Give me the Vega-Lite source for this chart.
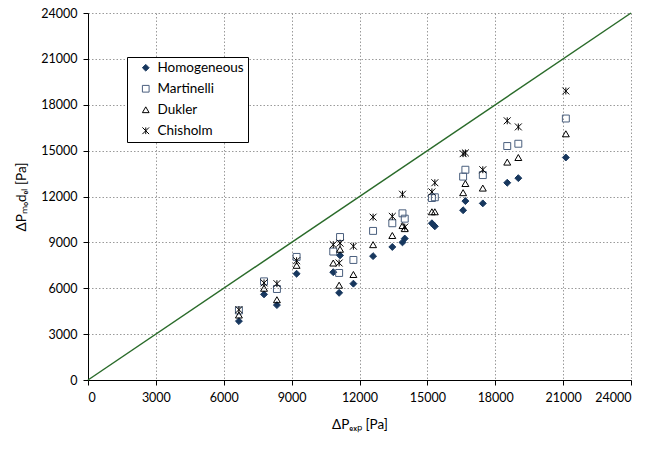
{
  "$schema": "https://vega.github.io/schema/vega-lite/v6.json",
  "width": 543,
  "height": 367,
  "autosize": "none",
  "padding": {"left": 88, "top": 13, "right": 26, "bottom": 70},
  "config": {
    "view": {"stroke": null},
    "font": "Lato",
    "axis": {
      "labelFontSize": 12.5,
      "labelColor": "#000",
      "domainColor": "#000",
      "tickColor": "#000",
      "tickSize": 5,
      "gridColor": "#9a9a9a",
      "gridDash": [1.5, 2],
      "gridWidth": 1,
      "titleFontSize": 13.5,
      "titleFontWeight": "normal",
      "titleColor": "#000"
    },
    "legend": {
      "labelFontSize": 13.5,
      "labelColor": "#000",
      "symbolSize": 45,
      "symbolStrokeWidth": 1
    }
  },
  "datasets": {
    "diag": [{"x": 0, "y": 0}, {"x": 24000, "y": 24000}],
    "pts": [
      {"exp": 6670, "model": "Homogeneous", "value": 3850},
      {"exp": 6670, "model": "Martinelli", "value": 4550},
      {"exp": 6670, "model": "Dukler", "value": 4250},
      {"exp": 6670, "model": "Chisholm", "value": 4600},
      {"exp": 7780, "model": "Homogeneous", "value": 5600},
      {"exp": 7780, "model": "Martinelli", "value": 6450},
      {"exp": 7780, "model": "Dukler", "value": 6000},
      {"exp": 7780, "model": "Chisholm", "value": 6350},
      {"exp": 8350, "model": "Homogeneous", "value": 4900},
      {"exp": 8350, "model": "Martinelli", "value": 5950},
      {"exp": 8350, "model": "Dukler", "value": 5250},
      {"exp": 8350, "model": "Chisholm", "value": 6300},
      {"exp": 9220, "model": "Homogeneous", "value": 6950},
      {"exp": 9220, "model": "Martinelli", "value": 8050},
      {"exp": 9220, "model": "Dukler", "value": 7500},
      {"exp": 9220, "model": "Chisholm", "value": 7800},
      {"exp": 10840, "model": "Homogeneous", "value": 7050},
      {"exp": 10840, "model": "Martinelli", "value": 8400},
      {"exp": 10840, "model": "Dukler", "value": 7650},
      {"exp": 10840, "model": "Chisholm", "value": 8850},
      {"exp": 11140, "model": "Homogeneous", "value": 8150},
      {"exp": 11140, "model": "Martinelli", "value": 9350},
      {"exp": 11140, "model": "Dukler", "value": 8550},
      {"exp": 11140, "model": "Chisholm", "value": 8950},
      {"exp": 11100, "model": "Homogeneous", "value": 5700},
      {"exp": 11100, "model": "Martinelli", "value": 7000},
      {"exp": 11100, "model": "Dukler", "value": 6200},
      {"exp": 11100, "model": "Chisholm", "value": 7650},
      {"exp": 11730, "model": "Homogeneous", "value": 6300},
      {"exp": 11730, "model": "Martinelli", "value": 7850},
      {"exp": 11730, "model": "Dukler", "value": 6900},
      {"exp": 11730, "model": "Chisholm", "value": 8750},
      {"exp": 12600, "model": "Homogeneous", "value": 8100},
      {"exp": 12600, "model": "Martinelli", "value": 9750},
      {"exp": 12600, "model": "Dukler", "value": 8850},
      {"exp": 12600, "model": "Chisholm", "value": 10650},
      {"exp": 13450, "model": "Homogeneous", "value": 8700},
      {"exp": 13450, "model": "Martinelli", "value": 10250},
      {"exp": 13450, "model": "Dukler", "value": 9450},
      {"exp": 13450, "model": "Chisholm", "value": 10700},
      {"exp": 13900, "model": "Homogeneous", "value": 9000},
      {"exp": 13900, "model": "Martinelli", "value": 10900},
      {"exp": 13900, "model": "Dukler", "value": 10100},
      {"exp": 13900, "model": "Chisholm", "value": 12150},
      {"exp": 14000, "model": "Homogeneous", "value": 9250},
      {"exp": 14000, "model": "Martinelli", "value": 10550},
      {"exp": 14000, "model": "Dukler", "value": 9900},
      {"exp": 14000, "model": "Chisholm", "value": 10000},
      {"exp": 15200, "model": "Homogeneous", "value": 10250},
      {"exp": 15200, "model": "Martinelli", "value": 11900},
      {"exp": 15200, "model": "Dukler", "value": 11000},
      {"exp": 15200, "model": "Chisholm", "value": 12300},
      {"exp": 15330, "model": "Homogeneous", "value": 10050},
      {"exp": 15330, "model": "Martinelli", "value": 11950},
      {"exp": 15330, "model": "Dukler", "value": 11000},
      {"exp": 15330, "model": "Chisholm", "value": 12900},
      {"exp": 16580, "model": "Homogeneous", "value": 11100},
      {"exp": 16580, "model": "Martinelli", "value": 13300},
      {"exp": 16580, "model": "Dukler", "value": 12250},
      {"exp": 16580, "model": "Chisholm", "value": 14800},
      {"exp": 16680, "model": "Homogeneous", "value": 11700},
      {"exp": 16680, "model": "Martinelli", "value": 13750},
      {"exp": 16680, "model": "Dukler", "value": 12850},
      {"exp": 16680, "model": "Chisholm", "value": 14850},
      {"exp": 17450, "model": "Homogeneous", "value": 11550},
      {"exp": 17450, "model": "Martinelli", "value": 13400},
      {"exp": 17450, "model": "Dukler", "value": 12550},
      {"exp": 17450, "model": "Chisholm", "value": 13750},
      {"exp": 18530, "model": "Homogeneous", "value": 12900},
      {"exp": 18530, "model": "Martinelli", "value": 15300},
      {"exp": 18530, "model": "Dukler", "value": 14250},
      {"exp": 18530, "model": "Chisholm", "value": 16950},
      {"exp": 19020, "model": "Homogeneous", "value": 13200},
      {"exp": 19020, "model": "Martinelli", "value": 15450},
      {"exp": 19020, "model": "Dukler", "value": 14550},
      {"exp": 19020, "model": "Chisholm", "value": 16550},
      {"exp": 21120, "model": "Homogeneous", "value": 14550},
      {"exp": 21120, "model": "Martinelli", "value": 17100},
      {"exp": 21120, "model": "Dukler", "value": 16100},
      {"exp": 21120, "model": "Chisholm", "value": 18900}
    ]
  },
  "layer": [
    {
      "data": {"name": "diag"},
      "mark": {"type": "line", "color": "#2a6b2a", "strokeWidth": 1.5},
      "encoding": {
        "x": {
          "field": "x", "type": "quantitative",
          "scale": {"domain": [0, 24000], "nice": false},
          "axis": {"values": [0, 3000, 6000, 9000, 12000, 15000, 18000, 21000, 24000], "format": "d", "title": "ΔPₑₓₚ  [Pa]", "titlePadding": 14, "labelPadding": 6}
        },
        "y": {
          "field": "y", "type": "quantitative",
          "scale": {"domain": [0, 24000], "nice": false},
          "axis": {"values": [0, 3000, 6000, 9000, 12000, 15000, 18000, 21000, 24000], "format": "d", "title": "ΔPₘₒdₑₗ  [Pa]", "titlePadding": 12, "labelPadding": 6}
        }
      }
    },
    {
      "data": {"name": "pts"},
      "mark": {"type": "point", "size": 48, "strokeWidth": 1, "opacity": 1},
      "encoding": {
        "x": {"field": "exp", "type": "quantitative"},
        "y": {"field": "value", "type": "quantitative"},
        "shape": {
          "field": "model", "type": "nominal",
          "scale": {"domain": ["Homogeneous", "Martinelli", "Dukler", "Chisholm"], "range": ["diamond", "square", "triangle-up", "M-1,-1L1,1M-1,1L1,-1M0,-1L0,1"]},
          "legend": {"title": null, "orient": "none", "legendX": 39, "legendY": 44, "strokeColor": "#000", "fillColor": "#fff", "padding": 4, "rowPadding": 6, "symbolOffset": 8, "labelOffset": 5, "cornerRadius": 0}
        },
        "fill": {
          "field": "model", "type": "nominal",
          "scale": {"domain": ["Homogeneous", "Martinelli", "Dukler", "Chisholm"], "range": ["#17375e", "transparent", "transparent", "transparent"]},
          "legend": {"title": null, "orient": "none", "legendX": 39, "legendY": 44, "strokeColor": "#000", "fillColor": "#fff", "padding": 4, "rowPadding": 6, "symbolOffset": 8, "labelOffset": 5, "cornerRadius": 0}
        },
        "stroke": {
          "field": "model", "type": "nominal",
          "scale": {"domain": ["Homogeneous", "Martinelli", "Dukler", "Chisholm"], "range": ["#17375e", "#4a5f7e", "#000000", "#000000"]},
          "legend": {"title": null, "orient": "none", "legendX": 39, "legendY": 44, "strokeColor": "#000", "fillColor": "#fff", "padding": 4, "rowPadding": 6, "symbolOffset": 8, "labelOffset": 5, "cornerRadius": 0}
        }
      }
    }
  ]
}
